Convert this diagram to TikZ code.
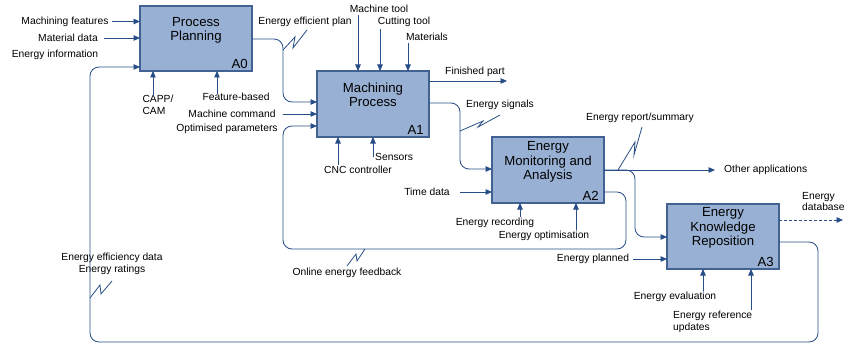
\documentclass[tikz,border=0pt]{standalone}
\usepackage{fontspec}
\setmainfont{Liberation Sans}
\usetikzlibrary{arrows.meta}
\definecolor{boxfill}{RGB}{152,176,211}
\definecolor{boxline}{RGB}{66,98,148}
\definecolor{lnc}{RGB}{40,78,135}
\begin{document}
\begin{tikzpicture}[x=1pt,y=-1pt,
 box/.style={draw=boxline, fill=boxfill, line width=1.3pt, minimum width=112pt, minimum height=65pt, inner sep=0, outer sep=0},
 ttl/.style={font=\fontsize{13.2}{14.5}\selectfont, align=center, inner sep=0},
 tag/.style={font=\fontsize{13.2}{14.5}\selectfont, inner sep=0, anchor=base east},
 lbl/.style={font=\fontsize{10.3}{11.8}\selectfont, inner sep=0},
 ln/.style={draw=lnc, line width=0.85pt, rounded corners=9pt},
 arr/.style={ln, -{Triangle[length=6.5pt,width=5.5pt]}},
 zz/.style={draw=lnc, line width=0.8pt}
]
\useasboundingbox (0,0) rectangle (844,345);

% boxes
\node[box] (A0) at (196,38.5) {};
\node[box, minimum height=66pt] (A1) at (373,104) {};
\node[box, minimum height=66pt] (A2) at (548,170) {};
\node[box] (A3) at (723,236.5) {};
\node[ttl] (A0t) at (196,30.5) {Process\\Planning};
\node[ttl] (A1t) at (373,95) {Machining\\Process};
\node[ttl] (A2t) at (548,162) {Energy\\Monitoring and\\Analysis};
\node[ttl] (A3t) at (723,228) {Energy\\Knowledge\\Reposition};
\node[tag] (A0n) at ([xshift=-4pt,yshift=2pt]A0.south east) {A0};
\node[tag] (A1n) at ([xshift=-5pt,yshift=3pt]A1.south east) {A1};
\node[tag] (A2n) at ([xshift=-5pt,yshift=3pt]A2.south east) {A2};
\node[tag] (A3n) at ([xshift=-5pt,yshift=3pt]A3.south east) {A3};

% labels
\node[lbl] (mf) at (65,21.5) {Machining features};
\node[lbl] (md) at (68,38) {Material data};
\node[lbl] (ei) at (55,55) {Energy information};
\node[lbl, align=left] (capp) at (158,104.5) {CAPP/\\CAM};
\node[lbl] (fb) at (236,97) {Feature-based};
\node[lbl] (eep) at (305,22) {Energy efficient plan};
\node[lbl] (mc) at (232,114) {Machine command};
\node[lbl] (op) at (227,129) {Optimised parameters};
\node[lbl] (mt) at (379,9) {Machine tool};
\node[lbl] (ct) at (404,22) {Cutting tool};
\node[lbl] (mat) at (427,37) {Materials};
\node[lbl] (fp) at (475,72) {Finished part};
\node[lbl] (es) at (500,105) {Energy signals};
\node[lbl] (cnc) at (358,170) {CNC controller};
\node[lbl, anchor=west] (sen) at (375,157) {Sensors};
\node[lbl] (td) at (427,192) {Time data};
\node[lbl] (er) at (495,223) {Energy recording};
\node[lbl] (eo) at (544,236) {Energy optimisation};
\node[lbl] (ers) at (640,118) {Energy report/summary};
\node[lbl, anchor=west] (oa) at (724,170) {Other applications};
\node[lbl, anchor=west, align=left] (edb) at (802,201.5) {Energy\\database};
\node[lbl] (ep) at (593,259) {Energy planned};
\node[lbl] (ee) at (675,297) {Energy evaluation};
\node[lbl, anchor=west, align=left] (eru) at (673,321.5) {Energy reference\\updates};
\node[lbl, align=center] (eff) at (112,264) {Energy efficiency data\\Energy ratings};
\node[lbl] (oef) at (347,273) {Online energy feedback};

% A0 inputs / controls
\draw[arr] ([xshift=3pt]mf.east) -- (A0.west |- mf.east);
\draw[arr] ([xshift=6pt]md.east) -- (A0.west |- md.east);
\draw[arr] ([yshift=-1pt]153,0 |- capp.north) -- (153,0 |- A0.south);
\draw[arr] ([yshift=-1pt]217,0 |- fb.north) -- (217,0 |- A0.south);

% A0 -> A1
\draw[arr] (A0.east |- 0,39) -- (283,39) -- (283,102) -- (A1.west |- 0,102);
\draw[zz] (283,50) -- (295,37) -- (293,48) -- (307,30);

% A1 inputs / controls
\draw[arr] ([xshift=7pt]mc.east) -- (A1.west |- mc.east);
\draw[arr] ([yshift=-2pt]358,0 |- mt.south) -- (358,0 |- A1.north);
\draw[arr] ([yshift=-2pt]380,0 |- ct.south) -- (380,0 |- A1.north);
\draw[arr] ([yshift=-2pt]408,0 |- mat.south) -- (408,0 |- A1.north);
\draw[arr] ([yshift=1pt]338,0 |- cnc.north) -- (338,0 |- A1.south);
\draw[arr] (373,0 |- sen.west) -- (373,0 |- A1.south);

% A1 outputs
\draw[arr] (A1.east |- 0,81) -- (507,81);
\draw[arr] (A1.east |- 0,103) -- (460,103) -- (460,169) -- (A2.west |- 0,169);
\draw[zz] (460,131) -- (483,121) -- (478,127) -- (500,115);

% A2 inputs / controls
\draw[arr] ([xshift=10pt]td.east) -- (A2.west |- td.east);
\draw[arr] ([yshift=1pt]520,0 |- er.north) -- (520,0 |- A2.south);
\draw[arr] ([yshift=1pt]576,0 |- eo.north) -- (576,0 |- A2.south);

% online feedback
\draw[arr] (A2.east |- 0,192) -- (626,192) -- (626,249) -- (283,249) -- (283,126) -- (A1.west |- 0,126);
\draw[zz] (347,266) -- (356,254) -- (357,261) -- (365,249);

% A2 outputs
\draw[arr] (A2.east |- 0,170) -- ([xshift=-9pt]oa.west);
\draw[arr] (A2.east |- 0,170) -- (635,170) -- (635,237) -- (A3.west |- 0,237);
\draw[zz] (618,170) -- (635,142) -- (634,155) -- (642,127);

% A3
\draw[arr] ([xshift=4pt]ep.east) -- (A3.west |- ep.east);
\draw[arr] ([yshift=1pt]703,0 |- ee.north) -- (703,0 |- A3.south);
\draw[arr] ([yshift=1pt]751,0 |- eru.north) -- (751,0 |- A3.south);
\draw[arr, dash pattern=on 3pt off 2pt] (A3.east |- 0,220) -- (843,220);

% big feedback
\draw[arr] (A3.east |- 0,242) -- (818,242) -- (818,342) -- (90,342) -- (90,67) -- (A0.west |- 0,67);
\draw[zz] (90,298) -- (100,285) -- (101,294) -- (112,281);
\end{tikzpicture}
\end{document}
